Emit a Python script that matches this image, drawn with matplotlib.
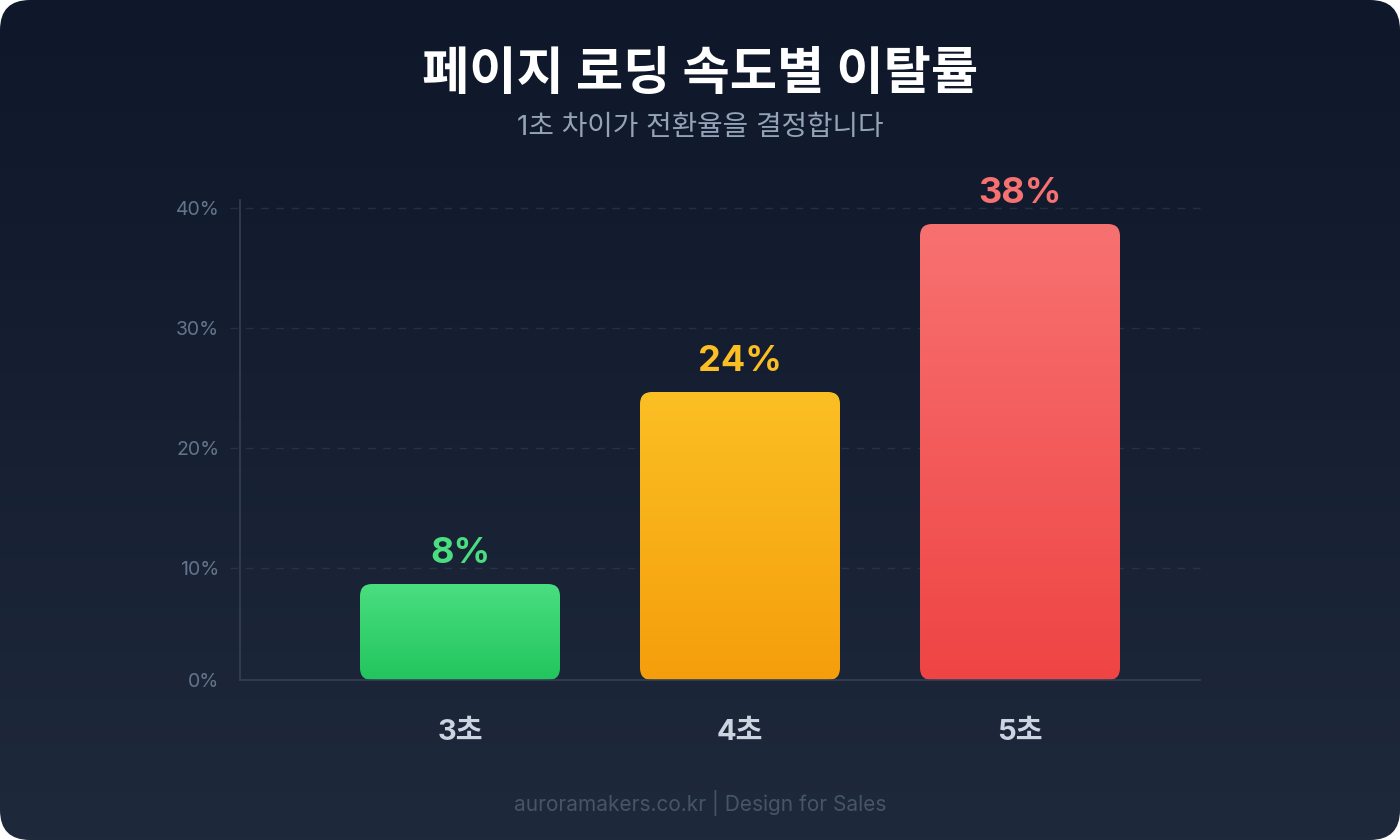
import numpy as np
import matplotlib
matplotlib.use('Agg')
import matplotlib.pyplot as plt
from matplotlib.patches import FancyBboxPatch
import matplotlib.transforms as mtransforms

plt.rcParams['font.family'] = ['Inter', 'Noto Sans CJK KR', 'DejaVu Sans']

# 데이터
categories = ['3초', '4초', '5초']
bounce_rate = [8, 24, 38]
top_colors = ['#4ade80', '#fbbf24', '#f87171']
bottom_colors = ['#22c55e', '#f59e0b', '#ef4444']
y_ticks = [0, 10, 20, 30, 40]

title = '페이지 로딩 속도별 이탈률'
subtitle = '1초 차이가 전환율을 결정합니다'
footer = 'auroramakers.co.kr | Design for Sales'

W, H = 1400, 840
fig = plt.figure(figsize=(W / 100, H / 100), dpi=100, facecolor='white')

# 배경 (둥근 모서리 + 세로 그라데이션)
bg = fig.add_axes([0, 0, 1, 1])
bg.set_xlim(0, W)
bg.set_ylim(0, H)
bg.axis('off')
card = FancyBboxPatch((0, 0), W, H, boxstyle='round,pad=0,rounding_size=30',
                      facecolor='none', edgecolor='none')
bg.add_patch(card)
grad = np.linspace(0, 1, 256).reshape(-1, 1)
top_c = np.array(matplotlib.colors.to_rgb('#0f172a'))
bot_c = np.array(matplotlib.colors.to_rgb('#1e293b'))
img = top_c * (1 - grad[..., None]) + bot_c * grad[..., None]
im = bg.imshow(img, extent=[0, W, 0, H], origin='upper', aspect='auto')
im.set_clip_path(card)

# 제목
fig.text(0.5, 1 - 76 / H, title, ha='center', va='center', color='white',
         fontsize=37, fontweight='bold')
fig.text(0.5, 1 - 128 / H, subtitle, ha='center', va='center', color='#94a3b8',
         fontsize=20)
fig.text(0.5, 1 - 803 / H, footer, ha='center', va='center', color='#475569',
         fontsize=15)

# 차트 영역
ax_l, ax_r, ax_t, ax_b = 240, 1200, 200, 680
ax = fig.add_axes([ax_l / W, 1 - ax_b / H, (ax_r - ax_l) / W, (ax_b - ax_t) / H])
ax.set_facecolor('none')
x = np.arange(len(categories))
xmin, xmax = -220 / 280, 740 / 280
ax.set_xlim(xmin, xmax)
ax.set_ylim(0, 40)

for s in ['top', 'right']:
    ax.spines[s].set_visible(False)
for s in ['left', 'bottom']:
    ax.spines[s].set_color('#334155')
    ax.spines[s].set_linewidth(1.2)

# 그리드/눈금 (원본처럼 살짝 아래로 밀린 위치)
shift = 8 / 12
tick_pos = [t - shift if t else 0 for t in y_ticks]
ax.set_yticks(tick_pos)
ax.set_yticklabels([f'{t}%' for t in y_ticks])
ax.tick_params(axis='y', length=0, pad=15, labelsize=14, labelcolor='#64748b')
trans = mtransforms.blended_transform_factory(ax.transAxes, ax.transData)
for p in tick_pos[1:]:
    ax.plot([-10 / 960, 1], [p, p], transform=trans, color='#334155', alpha=0.55,
            lw=1, dashes=(5.5, 5.5), clip_on=False, zorder=0)

ax.set_xticks(x)
ax.set_xticklabels(categories, fontweight='bold', fontsize=21, color='#cbd5e1')
ax.tick_params(axis='x', length=0, pad=28)

# 막대 (둥근 모서리 + 그라데이션)
bar_w = 200 / 280
px_x = 960 / (xmax - xmin)
px_y = 480 / 40
radius = 12 / px_x
for i, v in enumerate(bounce_rate):
    patch = FancyBboxPatch((x[i] - bar_w / 2, 0), bar_w, v,
                           boxstyle=f'round,pad=0,rounding_size={radius}',
                           mutation_aspect=px_x / px_y,
                           facecolor='none', edgecolor='none', zorder=2)
    ax.add_patch(patch)
    c1 = np.array(matplotlib.colors.to_rgb(top_colors[i]))
    c2 = np.array(matplotlib.colors.to_rgb(bottom_colors[i]))
    g = c1 * (1 - grad[..., None]) + c2 * grad[..., None]
    bim = ax.imshow(g, extent=[x[i] - bar_w / 2, x[i] + bar_w / 2, 0, v],
                    origin='upper', aspect='auto', zorder=2)
    bim.set_clip_path(patch)
    ax.annotate(f'{v}%', (x[i], v), xytext=(0, 15), textcoords='offset points',
                ha='center', va='baseline', color=top_colors[i],
                fontsize=26, fontweight='bold')

ax.set_xlim(xmin, xmax)
ax.set_ylim(0, 40)

fig.savefig('out.png', dpi=100)
